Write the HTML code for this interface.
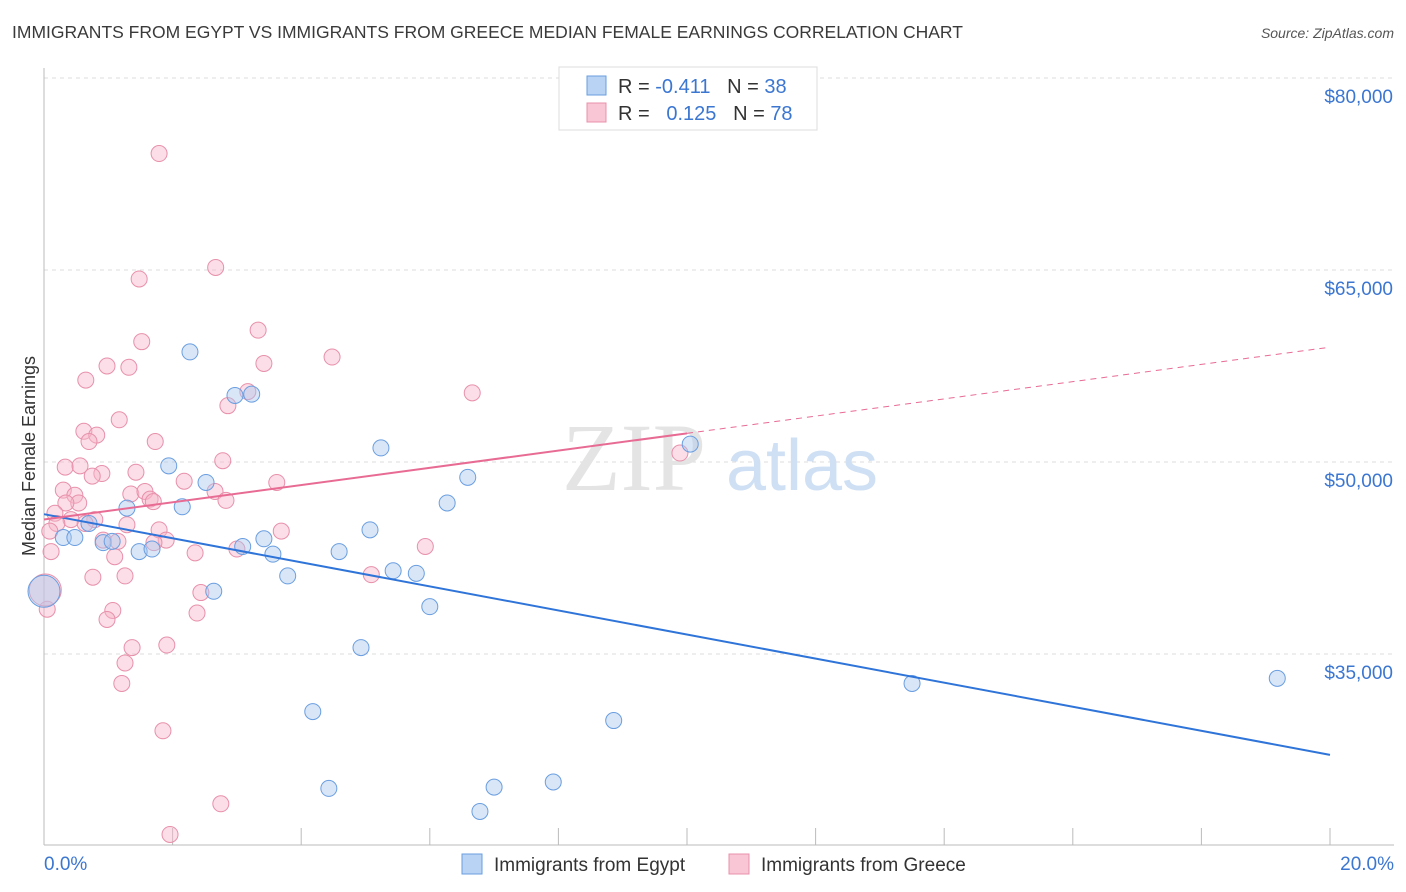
<!DOCTYPE html>
<html><head><meta charset="utf-8">
<style>
body{margin:0;background:#fff;font-family:"Liberation Sans",sans-serif;}
#wrap{position:relative;width:1406px;height:892px;overflow:hidden;}
.title{position:absolute;left:12px;top:22px;font-size:17.5px;color:#3a3a3a;}
.source{position:absolute;right:12px;top:25px;font-size:14px;color:#555;font-style:italic;}
</style></head><body>
<div id="wrap">
<div class="title">IMMIGRANTS FROM EGYPT VS IMMIGRANTS FROM GREECE MEDIAN FEMALE EARNINGS CORRELATION CHART</div>
<div class="source">Source: ZipAtlas.com</div>
<svg id="svg" width="1406" height="892" style="position:absolute;left:0;top:0"></svg>
</div>
<script>
const xTicks=[0,2,4,6,8,10,12,14,16,18,20];
const yTicks=[35000,50000,65000,80000];
const yTickLabels=["$35,000","$50,000","$65,000","$80,000"];
const egyptX=[0,2.27,2.97,3.23,1.94,2.52,2.15,1.29,0.70,0.30,0.48,0.92,1.06,1.48,1.68,3.09,3.42,3.56,3.79,2.64,5.24,6.59,6.27,5.07,4.59,5.43,5.79,6.00,4.93,4.18,4.43,6.78,7.00,7.92,8.86,10.05,13.50,19.18];
const egyptY=[39.9,58.6,55.2,55.3,49.7,48.4,46.5,46.4,45.2,44.1,44.1,43.7,43.8,43.0,43.2,43.4,44.0,42.8,41.1,39.9,51.1,48.8,46.8,44.7,43.0,41.5,41.3,38.7,35.5,30.5,24.5,22.7,24.6,25.0,29.8,51.4,32.7,33.1].map(v=>v*1000);
const greeceX=[1.79,1.48,2.67,3.33,1.52,4.48,0.98,1.32,3.42,0.65,6.66,3.17,2.86,1.17,0.62,0.82,0.70,1.73,2.78,0.33,0.56,1.43,0.90,0.75,2.18,3.62,0.30,1.35,0.48,1.57,0.54,1.65,1.70,2.66,2.83,0.34,0.17,0.79,0.42,0.20,0.64,1.29,1.79,0.09,1.90,1.15,0.92,1.71,3.00,0.11,2.35,1.10,5.93,3.69,0.76,1.26,5.09,2.44,1.07,0.05,0.98,2.38,1.37,1.91,1.26,1.21,1.85,2.75,1.96,9.89,0.02];
const greeceY=[74.1,64.3,65.2,60.3,59.4,58.2,57.5,57.4,57.7,56.4,55.4,55.5,54.4,53.3,52.4,52.1,51.6,51.6,50.1,49.6,49.7,49.2,49.1,48.9,48.5,48.4,47.8,47.5,47.4,47.7,46.8,47.1,46.9,47.7,47.0,46.8,46.0,45.5,45.5,45.2,45.2,45.1,44.7,44.6,43.9,43.8,43.9,43.7,43.2,43.0,42.9,42.6,43.4,44.6,41.0,41.1,41.2,39.8,38.4,38.5,37.7,38.2,35.5,35.7,34.3,32.7,29.0,23.3,20.9,50.7,40.0].map(v=>v*1000);
const svg=document.getElementById('svg');
const NS='http://www.w3.org/2000/svg';
const X=v=>44+v/20*1286;
const Y=v=>78+(80000-v)*0.0128;
function mk(t,a,p){const e=document.createElementNS(NS,t);for(const k in a)e.setAttribute(k,a[k]);(p||svg).appendChild(e);return e;}
// grid
yTicks.forEach((v,i)=>{
 const g=mk('line',{x1:44,x2:1394,y1:Y(v),y2:Y(v),stroke:'#dcdcdc','stroke-dasharray':'4,4'});
 
 
 const t=mk('text',{x:1393,y:Y(v)+25,'text-anchor':'end','font-size':19,fill:'#3b76d1'});
 t.textContent=yTickLabels[i];
 
 
});
const top1=mk('line',{x1:44,x2:1394,y1:Y(80000),y2:Y(80000),stroke:'#dcdcdc','stroke-dasharray':'4,4'});


const ax=mk('line',{x1:44,x2:44,y1:68,y2:845,stroke:'#bbb'});


const bx=mk('line',{x1:44,x2:1394,y1:845,y2:845,stroke:'#bbb'});


xTicks.forEach(v=>{
 const l=mk('line',{x1:X(v),x2:X(v),y1:828,y2:845,stroke:'#bbb'});
 
 
});
[[0,'0.0%','start',44],[20,'20.0%','end',1394]].forEach(d=>{
 const t=mk('text',{x:d[3],y:870,'text-anchor':d[2],'font-size':19,fill:'#3b76d1'});
 t.textContent=d[1];
 
 
});
const yt=mk('text',{x:35,y:456,'text-anchor':'middle','font-size':18,fill:'#333',transform:'rotate(-90 35 456)'});
yt.textContent='Median Female Earnings';


// watermark
const wm=mk('text',{x:720,y:490,'text-anchor':'middle','font-size':96,fill:'#e4e4e4','font-family':'Liberation Serif'});
wm.innerHTML='ZIP<tspan fill="#cfe0f4" font-family="Liberation Sans" font-size="72"> atlas</tspan>';


function reg(xs,ys){const n=xs.length;let mx=0,my=0;xs.forEach((x,i)=>{mx+=x;my+=ys[i]});mx/=n;my/=n;let sxy=0,sxx=0;xs.forEach((x,i)=>{sxy+=(x-mx)*(ys[i]-my);sxx+=(x-mx)*(x-mx)});const b=sxy/sxx;return x=>my+b*(x-mx);}
function dots(xs,ys,fill,stroke,name){
 xs.forEach((x,i)=>{
  const big=(x<0.03);
  const c=mk('circle',{cx:X(x),cy:Y(ys[i]),r:big?16:8,fill:fill,'fill-opacity':0.45,stroke:stroke,'stroke-width':1});
  
  
 });
}
dots(greeceX,greeceY,'#f7b6c9','#e890ab','greece-point');
dots(egyptX,egyptY,'#a9c8f0','#6a9ee0','egypt-point');
const fe=reg(egyptX,egyptY);
const le=mk('line',{x1:X(0),y1:Y(fe(0)),x2:X(20),y2:Y(fe(20)),stroke:'#2f74d8','stroke-width':2});


const fg=reg(greeceX,greeceY);
const lg=mk('line',{x1:X(0),y1:Y(fg(0)),x2:X(10),y2:Y(fg(10)),stroke:'#e86b94','stroke-width':2});


const lg2=mk('line',{x1:X(10),y1:Y(fg(10)),x2:X(20),y2:Y(fg(20)),stroke:'#e86b94','stroke-width':1,'stroke-dasharray':'6,5'});


// legend
const lgd=mk('g',{});


mk('rect',{x:559,y:67,width:258,height:63,fill:'#fff',stroke:'#ddd'},lgd);
mk('rect',{x:587,y:76,width:19,height:19,fill:'#b9d3f4',stroke:'#6a9ee0'},lgd);
mk('rect',{x:587,y:103,width:19,height:19,fill:'#f9c6d5',stroke:'#e890ab'},lgd);
const t1=mk('text',{x:618,y:93,'font-size':20,fill:'#333'},lgd);
t1.innerHTML='R = <tspan fill="#3b76d1">-0.411</tspan>   N = <tspan fill="#3b76d1">38</tspan>';
t1.setAttribute('xml:space','preserve');
const t2=mk('text',{x:618,y:120,'font-size':20,fill:'#333'},lgd);
t2.innerHTML='R =  <tspan fill="#3b76d1"> 0.125</tspan>   N = <tspan fill="#3b76d1">78</tspan>';
t2.setAttribute('xml:space','preserve');
t1.style.whiteSpace='pre';t2.style.whiteSpace='pre';
// bottom legend
const bl=mk('g',{});


mk('rect',{x:462,y:854,width:20,height:20,fill:'#b9d3f4',stroke:'#6a9ee0'},bl);
const b1=mk('text',{x:494,y:871,'font-size':19,fill:'#333'},bl);b1.textContent='Immigrants from Egypt';
mk('rect',{x:729,y:854,width:20,height:20,fill:'#f9c6d5',stroke:'#e890ab'},bl);
const b2=mk('text',{x:761,y:871,'font-size':19,fill:'#333'},bl);b2.textContent='Immigrants from Greece';
</script>
</body></html>
